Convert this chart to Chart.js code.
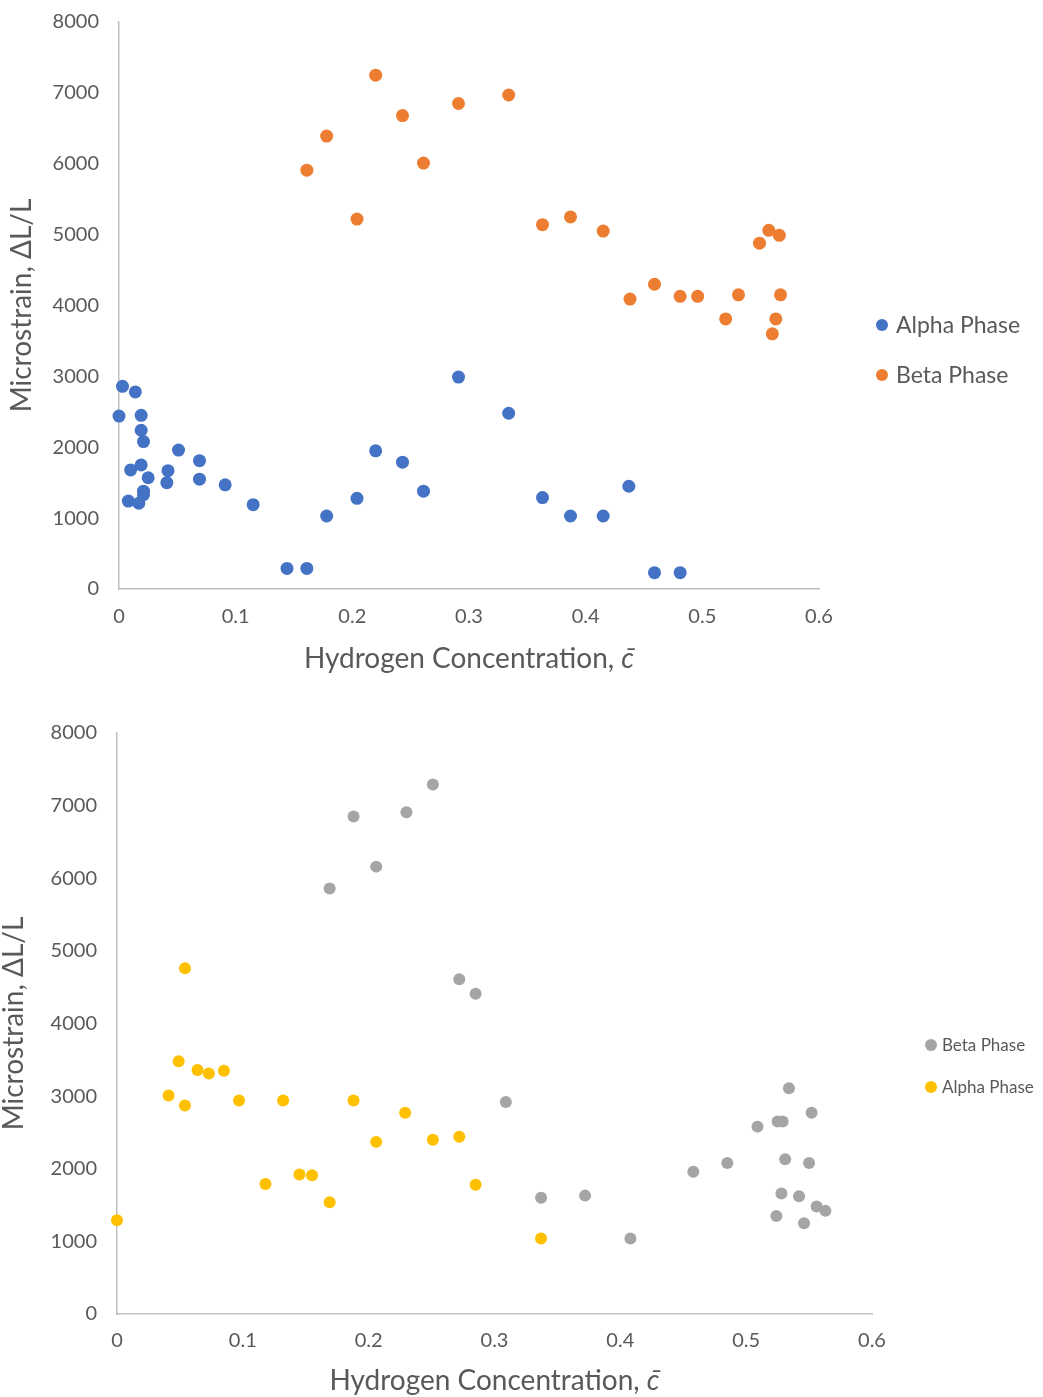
<!DOCTYPE html>
<html>
<head>
<meta charset="utf-8">
<script src="https://cdn.jsdelivr.net/npm/chart.js@4.4.0/dist/chart.umd.min.js"></script>
<style>
  body { margin: 0; background: #fff; }
  .box { position: absolute; left: 0; }
</style>
</head>
<body>
<div class="box" style="top:0"><canvas id="topChart" width="1043" height="690"></canvas></div>
<div class="box" style="top:690px"><canvas id="bottomChart" width="1043" height="707"></canvas></div>
<script>
// values

// top chart
var topAlphaX = [0.003, 0.014, 0.000, 0.019, 0.019, 0.021, 0.010, 0.019, 0.025, 0.042, 0.041, 0.051, 0.069, 0.069, 0.091, 0.115, 0.021, 0.021, 0.008, 0.017, 0.144, 0.161, 0.178, 0.204, 0.220, 0.243, 0.261, 0.291, 0.334, 0.363, 0.387, 0.415, 0.437, 0.459, 0.481];
var topAlphaY = [2860, 2780, 2440, 2450, 2240, 2080, 1680, 1750, 1570, 1670, 1500, 1960, 1810, 1550, 1470, 1190, 1380, 1330, 1240, 1210, 290, 290, 1030, 1280, 1950, 1790, 1380, 2990, 2480, 1290, 1030, 1030, 1450, 230, 230];
var topBetaX = [0.161, 0.178, 0.204, 0.220, 0.243, 0.261, 0.291, 0.334, 0.363, 0.387, 0.415, 0.438, 0.459, 0.481, 0.496, 0.520, 0.531, 0.549, 0.557, 0.560, 0.563, 0.566, 0.567];
var topBetaY = [5910, 6390, 5220, 7250, 6680, 6010, 6850, 6970, 5140, 5250, 5050, 4090, 4300, 4130, 4130, 3810, 4150, 4880, 5060, 3600, 3810, 4990, 4150];

// bottom chart
var botBetaX = [0.169, 0.188, 0.206, 0.230, 0.251, 0.272, 0.285, 0.309, 0.337, 0.372, 0.408, 0.458, 0.485, 0.509, 0.524, 0.525, 0.528, 0.529, 0.531, 0.534, 0.542, 0.546, 0.550, 0.552, 0.556, 0.563];
var botBetaY = [5860, 6850, 6160, 6910, 7290, 4610, 4410, 2920, 1600, 1630, 1040, 1960, 2080, 2580, 1350, 2650, 1660, 2650, 2130, 3110, 1620, 1250, 2080, 2770, 1480, 1420];
var botAlphaX = [0.000, 0.041, 0.049, 0.054, 0.054, 0.064, 0.073, 0.085, 0.097, 0.118, 0.132, 0.145, 0.155, 0.169, 0.188, 0.206, 0.229, 0.251, 0.272, 0.285, 0.337];
var botAlphaY = [1290, 3010, 3480, 4760, 2870, 3360, 3310, 3350, 2940, 1790, 2940, 1920, 1910, 1540, 2940, 2370, 2770, 2400, 2440, 1780, 1040];

var yTitle = "Microstrain, \u0394L/L";
var xTitleText = "Hydrogen Concentration, ";
var xTitleSymbol = "c\u0304";

function pts(xs, ys) {
  return xs.map(function (x, i) { return { x: x, y: ys[i] }; });
}

var FONT = "Lato, 'Open Sans', sans-serif";
var GREY = "#595959";
Chart.defaults.font.family = FONT;
Chart.defaults.color = GREY;

// legend drawn beside the plot
const sideLegend = {
  id: "sideLegend",
  afterDraw(chart, args, opts) {
    let ctx = chart.ctx;
    ctx.save();
    ctx.font = opts.size + "px " + FONT;
    ctx.textBaseline = "middle";
    chart.data.datasets.forEach(function (ds, i) {
      let y = opts.y + i * opts.gap;
      ctx.beginPath();
      ctx.fillStyle = ds.backgroundColor;
      ctx.arc(opts.x, y, opts.r, 0, Math.PI * 2);
      ctx.fill();
      ctx.fillStyle = GREY;
      ctx.fillText(ds.label, opts.x + opts.textGap, y + 1);
    });
    ctx.restore();
  }
};

// x axis title with italic c-bar
const xTitle = {
  id: "xTitle",
  afterDraw(chart, args, opts) {
    let ctx = chart.ctx;
    let area = chart.chartArea;
    ctx.save();
    ctx.fillStyle = GREY;
    ctx.textBaseline = "middle";
    ctx.textAlign = "left";
    ctx.font = opts.size + "px " + FONT;
    let wa = ctx.measureText(xTitleText).width;
    ctx.font = "italic " + opts.size + "px " + FONT;
    let wb = ctx.measureText(xTitleSymbol).width;
    let x = (area.left + area.right) / 2 - (wa + wb) / 2;
    ctx.font = opts.size + "px " + FONT;
    ctx.fillText(xTitleText, x, opts.y);
    ctx.font = "italic " + opts.size + "px " + FONT;
    ctx.fillText(xTitleSymbol, x + wa, opts.y);
    ctx.restore();
  }
};

function makeConfig(datasets, s) {
  return {
    type: "scatter",
    data: { datasets: datasets },
    plugins: [sideLegend, xTitle],
    options: {
      responsive: false,
      animation: false,
      layout: { padding: { left: 0, top: s.top, right: s.right, bottom: 0 } },
      elements: { point: { radius: s.radius, borderWidth: 0, hoverRadius: s.radius } },
      plugins: {
        legend: { display: false },
        tooltip: { enabled: false },
        sideLegend: s.legend,
        xTitle: s.xTitle
      },
      scales: {
        x: {
          type: "linear",
          min: 0, max: 0.6,
          afterFit: function (sc) { sc.height = s.xHeight; },
          // hidden tick marks only push the labels away from the axis
          grid: { display: false, drawTicks: true, tickLength: s.xPad },
          border: { display: true, color: "#bfbfbf", width: 1.5 },
          ticks: { stepSize: 0.1, padding: 0, font: { size: s.tick }, color: GREY }
        },
        y: {
          min: 0, max: 8000,
          afterFit: function (sc) { sc.width = s.yWidth; },
          grid: { display: false, drawTicks: true, tickLength: 20 },
          border: { display: true, color: "#bfbfbf", width: 1.5 },
          ticks: {
            stepSize: 1000, padding: 0, font: { size: s.tick }, color: GREY,
            callback: function (v) { return String(v); }
          },
          title: {
            display: true, text: yTitle, color: GREY,
            font: { size: s.title, lineHeight: 1 },
            padding: { top: s.yTitlePad, bottom: 0 }
          }
        }
      }
    }
  };
}

var topChart = new Chart(document.getElementById("topChart").getContext("2d"), makeConfig([
  { label: "Alpha Phase", data: pts(topAlphaX, topAlphaY), backgroundColor: "#4472c4", clip: false },
  { label: "Beta Phase", data: pts(topBetaX, topBetaY), backgroundColor: "#ed7d31", clip: false }
], {
  top: 22, right: 224, xHeight: 101, yWidth: 119, radius: 6.5, tick: 20, title: 28,
  xPad: 16, yTitlePad: 8,
  legend: { x: 882, y: 325, gap: 50, r: 6, textGap: 14, size: 23 },
  xTitle: { y: 659, size: 28 }
}));

var bottomChart = new Chart(document.getElementById("bottomChart").getContext("2d"), makeConfig([
  { label: "Beta Phase", data: pts(botBetaX, botBetaY), backgroundColor: "#a5a5a5", clip: false },
  { label: "Alpha Phase", data: pts(botAlphaX, botAlphaY), backgroundColor: "#ffc000", clip: false }
], {
  top: 43, right: 171, xHeight: 83, yWidth: 117, radius: 6, tick: 20, title: 28,
  xPad: 15, yTitlePad: 0,
  legend: { x: 931, y: 355, gap: 42, r: 6, textGap: 11, size: 17 },
  xTitle: { y: 691, size: 28 }
}));
</script>
</body>
</html>
